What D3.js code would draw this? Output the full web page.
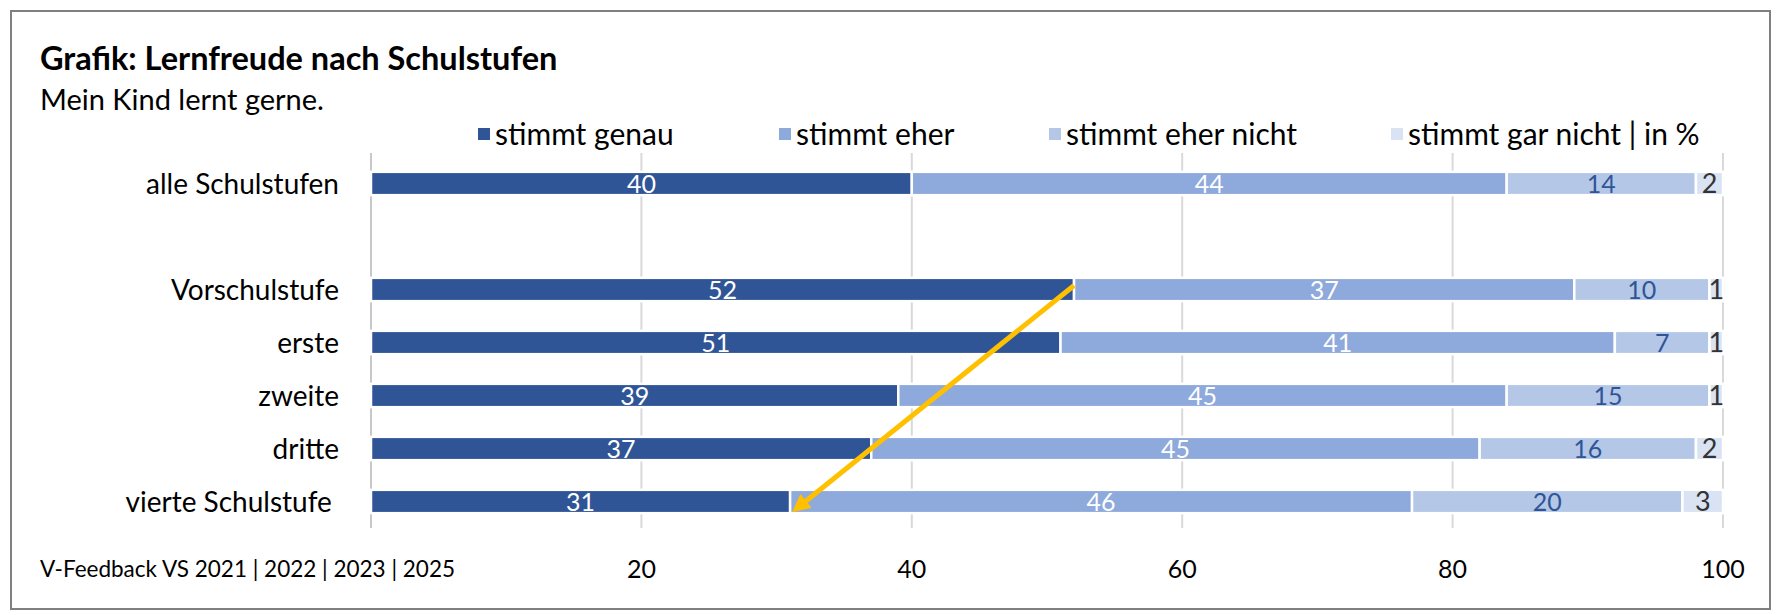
<!DOCTYPE html>
<html>
<head>
<meta charset="utf-8">
<script src="https://cdn.jsdelivr.net/npm/d3@7"></script>
<style>
  body { margin: 0; background: #fff; }
  svg text { font-family: Lato, "Open Sans", sans-serif; white-space: pre; }
</style>
</head>
<body>
<script>
// Daten
const categories = ["alle Schulstufen", " ", "Vorschulstufe", "erste", "zweite", "dritte", "vierte Schulstufe "];
const seriesNames = ["stimmt genau", "stimmt eher", "stimmt eher nicht", "stimmt gar nicht | in %"];
const genau = [40, null, 52, 51, 39, 37, 31];
const eher = [44, null, 37, 41, 45, 45, 46];
const eherNicht = [14, null, 10, 7, 15, 16, 20];
const garNicht = [2, null, 1, 1, 1, 2, 3];
const tickValues = [20, 40, 60, 80, 100];
const colors = ["#2F5597", "#8EA9DB", "#B4C7E7", "#DAE3F3"];
const labelColors = ["#ffffff", "#ffffff", "#2F5597", "#333333"];
const arrowFrom = { cat: "Vorschulstufe", value: 52 };
const arrowTo = { cat: "vierte Schulstufe ", value: 31 };

const W = 1781, H = 615;

const svg = d3.select("body").append("svg")
  .attr("width", W)
  .attr("height", H);

// Rahmen
svg.append("rect")
  .attr("x", 11).attr("y", 11)
  .attr("width", 1759).attr("height", 598)
  .attr("fill", "#fff")
  .attr("stroke", "#808080")
  .attr("stroke-width", 2);

// Titel
svg.append("text")
  .attr("x", 40).attr("y", 70)
  .attr("font-size", 32.5).attr("font-weight", "bold")
  .attr("fill", "#000")
  .text("Grafik: Lernfreude nach Schulstufen");

svg.append("text")
  .attr("x", 40).attr("y", 110)
  .attr("font-size", 29)
  .attr("fill", "#000")
  .text("Mein Kind lernt gerne.");

// Skalen
const x = d3.scaleLinear().domain([0, 100]).range([371, 1723]);
const y = d3.scaleBand().domain(categories).range([157, 528]).paddingInner(0.56).paddingOuter(0.28);

// Gitterlinien
svg.append("g")
  .selectAll("line")
  .data(tickValues)
  .join("line")
  .attr("x1", d => x(d)).attr("x2", d => x(d))
  .attr("y1", 153).attr("y2", 528)
  .attr("stroke", "#d9d9d9")
  .attr("stroke-width", 2);

// Achse bei 0
svg.append("line")
  .attr("x1", x(0)).attr("x2", x(0))
  .attr("y1", 153).attr("y2", 528)
  .attr("stroke", "#c8c8c8")
  .attr("stroke-width", 2);

// gestapelte Daten
const rows = categories.map((c, i) => ({
  cat: c,
  s0: genau[i], s1: eher[i], s2: eherNicht[i], s3: garNicht[i]
})).filter(r => r.s0 != null);

const stack = d3.stack().keys(["s0", "s1", "s2", "s3"]);
const stacked = stack(rows);

const layers = svg.append("g")
  .selectAll("g")
  .data(stacked)
  .join("g")
  .attr("fill", (d, i) => colors[i]);

layers.selectAll("rect")
  .data(d => d)
  .join("rect")
  .attr("x", d => x(d[0]))
  .attr("y", d => y(d.data.cat))
  .attr("width", d => x(d[1]) - x(d[0]))
  .attr("height", y.bandwidth())
  .attr("stroke", "#fff")
  .attr("stroke-width", 2.5);

// Beschriftungen
stacked.forEach((layer, i) => {
  svg.append("g")
    .selectAll("text")
    .data(layer)
    .join("text")
    .attr("x", d => (x(d[0]) + x(d[1])) / 2)
    .attr("y", d => y(d.data.cat) + y.bandwidth() / 2)
    .attr("dy", "0.36em")
    .attr("text-anchor", "middle")
    .attr("font-size", i === 3 ? 27 : 25)
    .attr("fill", labelColors[i])
    .text(d => d[1] - d[0]);
});

// Kategorien
svg.append("g")
  .selectAll("text")
  .data(categories)
  .join("text")
  .attr("x", 339)
  .attr("y", d => y(d) + y.bandwidth() / 2)
  .attr("dy", "0.36em")
  .attr("text-anchor", "end")
  .attr("font-size", 28)
  .attr("fill", "#000")
  .text(d => d === " " ? "" : d);

// x-Achse Beschriftung
svg.append("g")
  .selectAll("text")
  .data(tickValues)
  .join("text")
  .attr("x", d => x(d))
  .attr("y", 578)
  .attr("text-anchor", "middle")
  .attr("font-size", 25)
  .attr("fill", "#000")
  .text(d => d);

// Legende
const legendX = [478, 779, 1049, 1391];
const legend = svg.append("g")
  .selectAll("g")
  .data(seriesNames)
  .join("g")
  .attr("transform", (d, i) => `translate(${legendX[i]},134)`);

legend.append("rect")
  .attr("x", 0).attr("y", -6)
  .attr("width", 12).attr("height", 12)
  .attr("fill", (d, i) => colors[i]);

legend.append("text")
  .attr("x", 17).attr("y", 0)
  .attr("dy", "0.36em")
  .attr("font-size", 30)
  .attr("fill", "#000")
  .text(d => d);

// Quelle
svg.append("text")
  .attr("x", 40).attr("y", 577)
  .attr("font-size", 22.5)
  .attr("fill", "#000")
  .text("V-Feedback VS 2021 | 2022 | 2023 | 2025");

// Pfeil
svg.append("defs").append("marker")
  .attr("id", "pfeil")
  .attr("viewBox", "0 0 10 10")
  .attr("refX", 5).attr("refY", 5)
  .attr("markerWidth", 3.6).attr("markerHeight", 3.6)
  .attr("orient", "auto")
  .append("path")
  .attr("d", "M0,0 L10,5 L0,10 Z")
  .attr("fill", "#FFC000");

svg.append("line")
  .attr("x1", x(arrowFrom.value))
  .attr("y1", y(arrowFrom.cat) + y.bandwidth() / 2 - 4)
  .attr("x2", x(arrowTo.value) + 9)
  .attr("y2", y(arrowTo.cat) + y.bandwidth() / 2 + 5)
  .attr("stroke", "#FFC000")
  .attr("stroke-width", 5)
  .attr("marker-end", "url(#pfeil)");
</script>
</body>
</html>
